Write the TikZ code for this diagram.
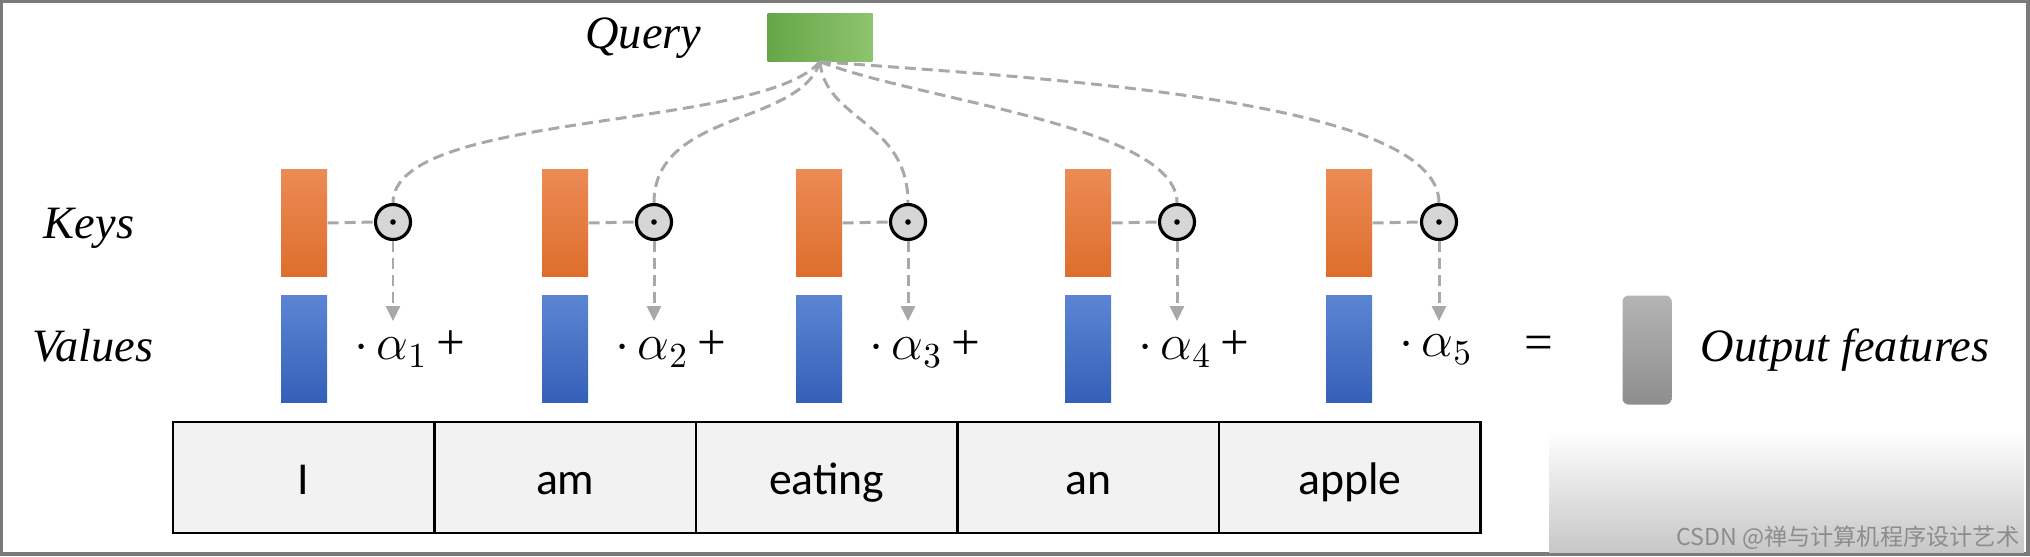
\documentclass[tikz,border=0pt]{standalone}
\usepackage{fontspec}
\setmainfont{Liberation Serif}
\newfontfamily\wordfont{Carlito}
\newfontfamily\cjkfont{Noto Sans CJK SC}
\usetikzlibrary{arrows.meta,positioning}
\definecolor{keyorange}{HTML}{EB8B55}
\definecolor{keyrust}{HTML}{DE6E2C}
\definecolor{valblue}{HTML}{5B85D3}
\definecolor{valnavy}{HTML}{3560B8}
\definecolor{qgreen}{HTML}{66A648}
\definecolor{qlight}{HTML}{8EC46D}
\definecolor{outlight}{HTML}{B4B4B4}
\definecolor{outdark}{HTML}{8E8E8E}
\definecolor{attgray}{HTML}{A8A8A8}
\definecolor{cellgray}{HTML}{F2F2F2}
\definecolor{dotgray}{HTML}{D6D6D6}
\definecolor{framegray}{HTML}{7A7A7A}
\tikzset{
  >={Triangle[length=1.5mm,width=1.4mm]},
  % boxes
  keyb/.style={rectangle,inner sep=0pt,minimum width=4.6mm,minimum height=10.7mm,
               top color=keyorange,bottom color=keyrust},
  valb/.style={rectangle,inner sep=0pt,minimum width=4.6mm,minimum height=10.7mm,
               top color=valblue,bottom color=valnavy},
  qbox/.style={rectangle,inner sep=0pt,minimum width=10.5mm,minimum height=4.8mm,
               left color=qgreen,right color=qlight},
  outb/.style={rectangle,rounded corners=0.6mm,inner sep=0pt,minimum width=4.9mm,
               minimum height=10.9mm,top color=outlight,bottom color=outdark},
  dotc/.style={circle,draw=black,fill=dotgray,line width=0.9pt,inner sep=0pt,
               minimum size=3.5mm,
               path picture={\fill[black] (path picture bounding box.center) circle[radius=0.28mm];}},
  % lines
  att/.style={draw=attgray,line width=0.85pt,dash pattern=on 1.1mm off 0.6mm},
  % text
  lab/.style={font=\fontsize{13.2}{15}\selectfont\itshape,inner sep=0pt},
  coef/.style={font=\fontsize{14.5}{16}\selectfont,inner sep=0pt},
  wd/.style={rectangle,draw=black,fill=cellgray,line width=0.8pt,outer sep=0pt,
             minimum width=26.15mm,minimum height=11.1mm,inner sep=0pt,
             text height=3.4mm,text depth=0pt,
             font=\wordfont\fontsize{13}{15}\selectfont},
}

\begin{document}
\begin{tikzpicture}[x=0.1mm,y=-0.1mm]
\useasboundingbox (0,0) rectangle (2030,556);
  \draw[framegray,line width=1pt] (1,1) rectangle (2028,554);
  \shade[top color=white,bottom color=black!22] (1549,431) rectangle (2024,552);
  % query
  \node[qbox] (q) at (820,37) {};
  \node[lab,anchor=east] (ql) at (702,38) {Query};
  % keys
  \node[lab] (kl) at (89,228) {Keys};
  \node[keyb] (k1) at (304,223) {};
  \node[keyb] (k2) at (565,223) {};
  \node[keyb] (k3) at (819,223) {};
  \node[keyb] (k4) at (1088,223) {};
  \node[keyb] (k5) at (1349,223) {};
  \node[dotc] (c1) at (393,222) {};
  \node[dotc] (c2) at (654,222) {};
  \node[dotc] (c3) at (908,222) {};
  \node[dotc] (c4) at (1177,222) {};
  \node[dotc] (c5) at (1439,222) {};
  % values
  \node[lab] (vl) at (93,346) {Values};
  \node[valb] (v1) at (304,349) {};
  \node[valb] (v2) at (565,349) {};
  \node[valb] (v3) at (819,349) {};
  \node[valb] (v4) at (1088,349) {};
  \node[valb] (v5) at (1349,349) {};
  \node[coef,right=2.6mm of v1] (a1) {$\cdot\,\alpha_1$\,+};
  \node[coef,right=2.6mm of v2] (a2) {$\cdot\,\alpha_2$\,+};
  \node[coef,right=2.6mm of v3] (a3) {$\cdot\,\alpha_3$\,+};
  \node[coef,right=2.6mm of v4] (a4) {$\cdot\,\alpha_4$\,+};
  \node[coef,right=2.6mm of v5] (a5) {$\cdot\,\alpha_5$};
  \node[coef] (eq) at (1539,348) {=};
  \node[outb] (o) at (1647,350) {};
  \node[lab,right=2.8mm of o] (ol) {Output features};
  % words
  \node[wd] (w1) at (303.75,477.5) {I};
  \node[wd,right=0pt of w1] (w2) {am};
  \node[wd,right=0pt of w2] (w3) {eating};
  \node[wd,right=0pt of w3] (w4) {an};
  \node[wd,right=0pt of w4] (w5) {apple};
  \coordinate (t1) at (393,321);
  \coordinate (t2) at (654,321);
  \coordinate (t3) at (908,321);
  \coordinate (t4) at (1177,321);
  \coordinate (t5) at (1439,321);
  % connectors
  \draw[att] (q.south) .. controls +(-60,69) and +(0,-92) .. (c1.north);
  \draw[att] (q.south) .. controls +(-20,64) and +(0,-92) .. (c2.north);
  \draw[att] (q.south) .. controls +(5,59) and +(0,-82) .. (c3.north);
  \draw[att] (q.south) .. controls +(100,39) and +(0,-77) .. (c4.north);
  \draw[att] (q.south) .. controls +(230,17) and +(0,-103) .. (c5.north);
  \draw[att] (k1.east) -- (c1.west);
  \draw[att] (k2.east) -- (c2.west);
  \draw[att] (k3.east) -- (c3.west);
  \draw[att] (k4.east) -- (c4.west);
  \draw[att] (k5.east) -- (c5.west);
  \draw[att,->] (c1.south) -- (t1);
  \draw[att,->] (c2.south) -- (t2);
  \draw[att,->] (c3.south) -- (t3);
  \draw[att,->] (c4.south) -- (t4);
  \draw[att,->] (c5.south) -- (t5);
  \node[font=\cjkfont\fontsize{6.6}{8}\selectfont,text=black!45,anchor=east,inner sep=0pt]
    (wm) at (2020,538) {CSDN @禅与计算机程序设计艺术};
\end{tikzpicture}
\end{document}
